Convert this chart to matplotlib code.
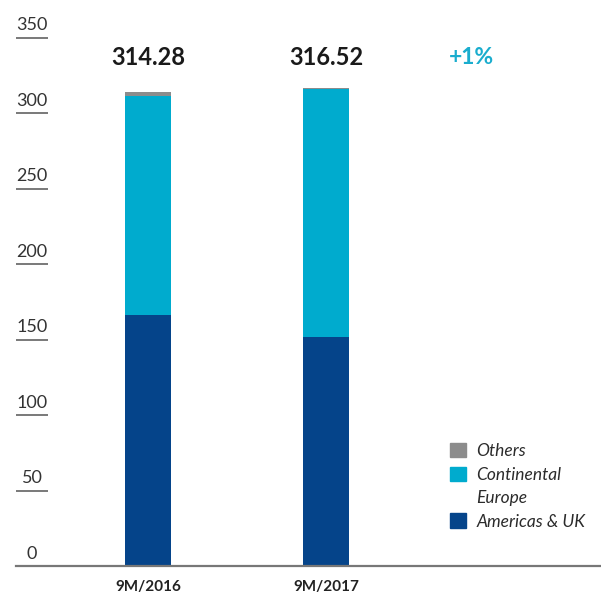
import numpy as np
import matplotlib.pyplot as plt
from matplotlib.patches import Patch

plt.rcParams['font.family'] = ['Lato', 'DejaVu Sans']

# donnees
periodes = ['9M/2016', '9M/2017']
americas = [166.3, 151.8]
continental = [145.2, 164.2]
others = [2.78, 0.52]
totaux = ['314.28', '316.52']
variation = '+1%'
yticks = [0, 50, 100, 150, 200, 250, 300, 350]

c_am = '#05448A'
c_ce = '#00ABCE'
c_ot = '#8C8C8C'

fig = plt.figure(figsize=(6.01, 5.95), dpi=100)
ax = fig.add_axes([0, 0, 1, 1])
ax.set_xlim(-0.831, 2.545)
ax.set_ylim(-19.2, 375.1)
ax.axis('off')

x = np.arange(len(periodes))
w = 0.258
am = np.array(americas)
ce = np.array(continental)
ot = np.array(others)
ax.bar(x, am, w, color=c_am)
ax.bar(x, ce, w, bottom=am, color=c_ce)
ax.bar(x, ot, w, bottom=am + ce, color=c_ot)

# axe des y fait main : chiffres avec un trait dessous
tr = ax.get_yaxis_transform()
for v in yticks:
    ax.plot([0.0266, 0.0799], [v, v], color='#555555', lw=1.1, transform=tr,
            solid_capstyle='butt')
    ax.text(0.0532, v + 3, str(v), transform=tr, ha='center', va='bottom',
            fontsize=13, fontweight='normal', color='#333333')

ax.axhline(0, xmin=0.0266, xmax=1, color='#777777', lw=1.6)

for i, lab in enumerate(periodes):
    ax.text(x[i], -13.9, lab, ha='center', va='center', fontsize=11,
            fontweight='bold', color='#222222')
    ax.text(x[i], 337.3, totaux[i], ha='center', va='center', fontsize=17,
            fontweight='bold', color='#1a1a1a')

ax.text(1.82, 337.3, variation, ha='center', va='center', fontsize=16.5,
        fontweight='bold', color='#1AADCE')

handles = [Patch(color=c_ot), Patch(color=c_ce), Patch(color='none'), Patch(color=c_am)]
labels = ['Others', 'Continental', 'Europe', 'Americas & UK']
leg = ax.legend(handles, labels, loc='upper left', bbox_to_anchor=(0.735, 0.27),
                frameon=False, fontsize=12.5, handlelength=0.9, handleheight=0.9,
                handletextpad=0.6, labelspacing=0.42, borderpad=0)
for t in leg.get_texts():
    t.set_fontstyle('italic')
    t.set_color('#2b2b2b')

fig.savefig('out.png', dpi=100)
